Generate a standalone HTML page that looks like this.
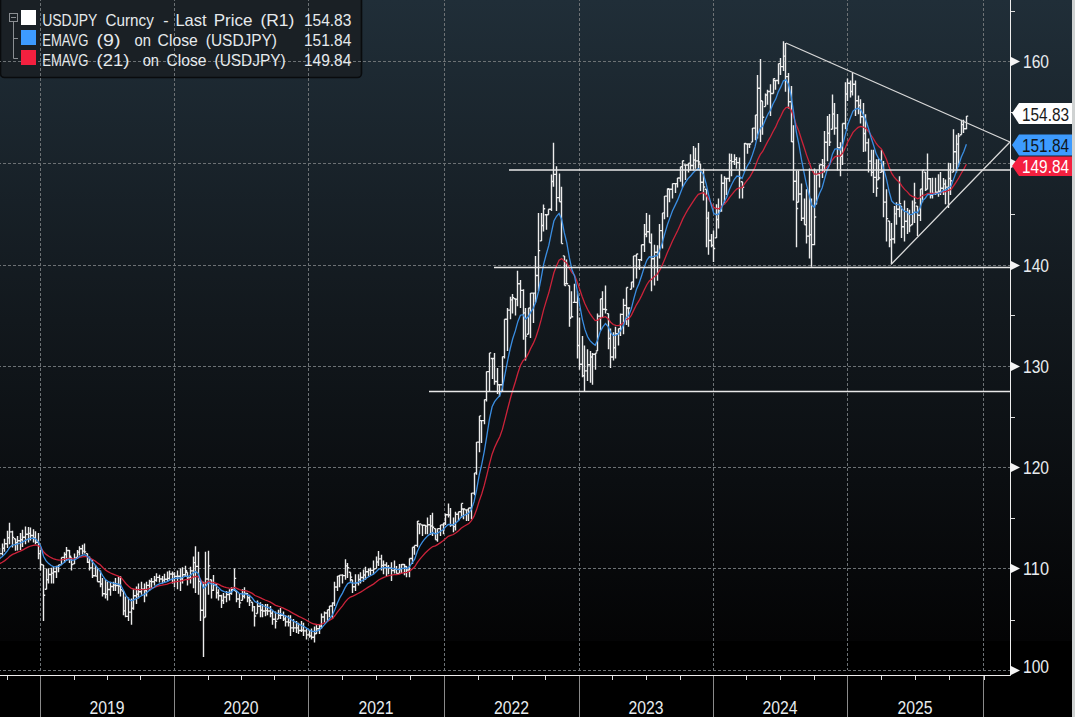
<!DOCTYPE html><html><head><meta charset="utf-8"><style>html,body{margin:0;padding:0;background:#000;overflow:hidden}svg{display:block}</style></head><body><svg width="1075" height="717" viewBox="0 0 1075 717" font-family="Liberation Sans, sans-serif"><defs><linearGradient id="bg" x1="0" y1="0" x2="0" y2="641" gradientUnits="userSpaceOnUse">
<stop offset="0" stop-color="#202e38"/><stop offset="0.5" stop-color="#12181d"/><stop offset="1" stop-color="#040405"/></linearGradient></defs><rect x="0" y="0" width="1075" height="641" fill="url(#bg)"/><rect x="0" y="641" width="1075" height="76" fill="#000"/><rect x="1072" y="0" width="3" height="717" fill="#cfd2d2"/><rect x="0.5" y="-4" width="361" height="81.5" rx="4" fill="#1a2025" stroke="#090b0d" stroke-width="1.6"/><path d="M0 61.5H1010 M0 163.5H1010 M0 265.5H1010 M0 366.5H1010 M0 467.5H1010 M0 568.5H1010 M0 670.5H1010 M40.5 0V670 M174.5 0V670 M308.5 0V670 M444.5 0V670 M579.5 0V670 M713.5 0V670 M847.5 0V670 M983.5 0V670" stroke="#6c7174" stroke-width="1" stroke-dasharray="3 2" stroke-dashoffset="2" fill="none"/><path d="M-0.5 548.0V559.3M-2.2 553.6h1.7M-0.5 553.6h1.7M2.5 543.4V555.5M0.8 553.6h1.7M2.5 548.2h1.7M4.5 538.7V551.8M2.8 548.2h1.7M4.5 543.8h1.7M7.5 530.7V548.0M5.8 543.8h1.7M7.5 537.8h1.7M9.5 522.8V544.3M7.8 537.8h1.7M9.5 531.9h1.7M12.5 530.7V547.6M10.8 531.9h1.7M12.5 537.4h1.7M15.5 538.7V550.8M13.8 538.7h1.7M15.5 542.7h1.7M17.5 535.9V550.4M15.8 542.7h1.7M17.5 540.7h1.7M20.5 533.1V549.9M18.8 540.7h1.7M20.5 539.8h1.7M22.5 529.8V547.1M20.8 539.8h1.7M22.5 537.3h1.7M25.5 526.5V544.3M23.8 537.3h1.7M25.5 534.2h1.7M28.5 527.0V542.4M26.8 534.2h1.7M28.5 533.4h1.7M30.5 527.5V540.6M28.8 533.4h1.7M30.5 535.5h1.7M33.5 529.3V542.4M31.8 535.5h1.7M33.5 538.0h1.7M35.5 531.2V544.3M33.8 538.0h1.7M35.5 542.2h1.7M38.5 533.1V559.3M36.8 542.2h1.7M38.5 553.6h1.7M40.5 549.9V570.5M38.8 553.6h1.7M40.5 564.5h1.7M43.5 564.9V620.9M41.8 564.9h1.7M43.5 595.3h1.7M46.5 568.6V589.2M44.8 589.2h1.7M46.5 579.7h1.7M48.5 568.6V583.6M46.8 579.7h1.7M48.5 574.5h1.7M51.5 567.7V583.6M49.8 574.5h1.7M51.5 573.1h1.7M53.5 566.7V583.6M51.8 573.1h1.7M53.5 571.7h1.7M56.5 565.8V577.9M54.8 571.7h1.7M56.5 566.5h1.7M58.5 564.9V572.3M56.8 566.5h1.7M58.5 564.9h1.7M61.5 557.4V564.9M59.8 564.9h1.7M61.5 557.4h1.7M64.5 552.2V563.0M62.8 557.4h1.7M64.5 554.5h1.7M66.5 547.1V561.1M64.8 554.5h1.7M66.5 550.5h1.7M69.5 549.9V563.0M67.8 550.5h1.7M69.5 556.1h1.7M71.5 557.4V570.5M69.8 557.4h1.7M71.5 564.5h1.7M74.5 553.6V563.9M72.8 563.9h1.7M74.5 558.3h1.7M77.5 549.9V557.4M75.8 557.4h1.7M77.5 552.1h1.7M79.5 546.2V555.5M77.8 552.1h1.7M79.5 548.8h1.7M82.5 544.8V554.6M80.8 548.8h1.7M82.5 551.1h1.7M84.5 543.4V553.6M82.8 551.1h1.7M84.5 551.9h1.7M87.5 553.6V563.0M85.8 553.6h1.7M87.5 562.2h1.7M89.5 556.4V570.5M87.8 562.2h1.7M89.5 567.9h1.7M92.5 559.3V577.9M90.8 567.9h1.7M92.5 575.7h1.7M95.5 564.9V576.1M93.8 575.7h1.7M95.5 576.1h1.7M97.5 567.7V581.7M95.8 576.1h1.7M97.5 581.7h1.7M100.5 570.5V587.3M98.8 581.7h1.7M100.5 584.0h1.7M102.5 577.9V596.6M100.8 584.0h1.7M102.5 593.8h1.7M105.5 579.8V598.5M103.8 593.8h1.7M105.5 594.4h1.7M107.5 581.7V600.4M105.8 594.4h1.7M107.5 589.5h1.7M110.5 581.7V595.7M108.8 589.5h1.7M110.5 586.5h1.7M113.5 581.7V591.0M111.8 586.5h1.7M113.5 585.1h1.7M115.5 577.9V591.0M113.8 585.1h1.7M115.5 585.5h1.7M118.5 577.0V593.8M116.8 585.5h1.7M118.5 586.0h1.7M120.5 576.1V596.6M118.8 586.0h1.7M120.5 589.8h1.7M123.5 591.0V615.3M121.8 591.0h1.7M123.5 610.9h1.7M125.5 596.6V617.2M123.8 610.9h1.7M125.5 616.4h1.7M128.5 597.6V620.9M126.8 616.4h1.7M128.5 612.1h1.7M131.5 598.5V624.7M129.8 612.1h1.7M131.5 608.3h1.7M133.5 589.2V609.7M131.8 608.3h1.7M133.5 595.8h1.7M136.5 586.4V604.1M134.8 595.8h1.7M136.5 594.2h1.7M138.5 583.6V598.5M136.8 594.2h1.7M138.5 591.7h1.7M141.5 581.7V594.8M139.8 591.7h1.7M141.5 589.3h1.7M144.5 583.6V602.2M142.8 589.3h1.7M144.5 590.5h1.7M146.5 581.7V596.6M144.8 590.5h1.7M146.5 585.4h1.7M149.5 579.8V591.0M147.8 585.4h1.7M149.5 581.4h1.7M151.5 577.9V588.2M149.8 581.4h1.7M151.5 581.8h1.7M154.5 576.1V585.4M152.8 581.8h1.7M154.5 580.2h1.7M156.5 573.3V581.7M154.8 580.2h1.7M156.5 577.4h1.7M159.5 574.7V582.6M157.8 577.4h1.7M159.5 579.0h1.7M162.5 576.1V583.6M160.8 579.0h1.7M162.5 580.1h1.7M164.5 573.7V582.6M162.8 580.1h1.7M164.5 579.2h1.7M167.5 571.4V581.7M165.8 579.2h1.7M167.5 578.4h1.7M169.5 570.5V579.8M167.8 578.4h1.7M169.5 574.0h1.7M172.5 571.4V583.6M170.8 574.0h1.7M172.5 574.1h1.7M174.5 572.3V587.3M172.8 574.1h1.7M174.5 576.4h1.7M177.5 570.5V589.2M175.8 576.4h1.7M177.5 576.3h1.7M180.5 568.6V591.0M178.8 576.3h1.7M180.5 578.9h1.7M182.5 567.2V583.6M180.8 578.9h1.7M182.5 574.8h1.7M185.5 565.8V576.1M183.8 574.8h1.7M185.5 570.8h1.7M187.5 572.3V585.4M185.8 572.3h1.7M187.5 577.9h1.7M190.5 566.7V583.6M188.8 577.9h1.7M190.5 570.9h1.7M193.5 556.4V588.2M191.8 570.9h1.7M193.5 562.6h1.7M195.5 546.2V592.9M193.8 562.6h1.7M195.5 566.4h1.7M198.5 551.8V594.8M196.8 566.4h1.7M198.5 581.4h1.7M200.5 579.8V620.9M198.8 581.4h1.7M200.5 610.3h1.7M203.5 581.7V657.0M201.8 610.3h1.7M203.5 617.5h1.7M205.5 551.8V617.2M203.8 617.2h1.7M205.5 579.0h1.7M208.5 550.8V594.8M206.8 579.0h1.7M208.5 565.9h1.7M211.5 579.8V598.5M209.8 579.8h1.7M211.5 590.3h1.7M213.5 575.1V591.0M211.8 590.3h1.7M213.5 584.9h1.7M216.5 583.6V598.5M214.8 584.9h1.7M216.5 592.8h1.7M218.5 589.2V600.4M216.8 592.8h1.7M218.5 595.8h1.7M221.5 594.8V607.9M219.8 595.8h1.7M221.5 600.5h1.7M223.5 592.9V604.1M221.8 600.5h1.7M223.5 597.1h1.7M226.5 591.0V602.2M224.8 597.1h1.7M226.5 594.5h1.7M229.5 589.2V600.4M227.8 594.5h1.7M229.5 593.2h1.7M231.5 587.3V594.8M229.8 593.2h1.7M231.5 589.5h1.7M234.5 568.6V591.0M232.8 589.5h1.7M234.5 578.4h1.7M236.5 591.0V602.2M234.8 591.0h1.7M236.5 599.0h1.7M239.5 592.9V607.9M237.8 599.0h1.7M239.5 602.9h1.7M242.5 589.2V600.4M240.8 600.4h1.7M242.5 596.2h1.7M244.5 587.3V598.5M242.8 596.2h1.7M244.5 593.4h1.7M247.5 592.9V602.2M245.8 593.4h1.7M247.5 597.7h1.7M249.5 594.8V606.0M247.8 597.7h1.7M249.5 600.5h1.7M252.5 602.2V611.6M250.8 602.2h1.7M252.5 606.9h1.7M254.5 606.0V626.5M252.8 606.9h1.7M254.5 616.0h1.7M257.5 600.4V613.5M255.8 613.5h1.7M257.5 606.3h1.7M260.5 602.2V617.2M258.8 606.3h1.7M260.5 610.2h1.7M262.5 604.1V617.2M260.8 610.2h1.7M262.5 611.0h1.7M265.5 604.1V616.3M263.8 611.0h1.7M265.5 610.6h1.7M267.5 604.1V615.3M265.8 610.6h1.7M267.5 611.0h1.7M270.5 606.0V617.2M268.8 611.0h1.7M270.5 613.2h1.7M272.5 609.7V624.7M270.8 613.2h1.7M272.5 619.2h1.7M275.5 611.6V628.4M273.8 619.2h1.7M275.5 621.4h1.7M278.5 609.7V619.1M276.8 619.1h1.7M278.5 615.4h1.7M280.5 607.9V619.1M278.8 615.4h1.7M280.5 615.2h1.7M283.5 611.6V620.9M281.8 615.2h1.7M283.5 619.0h1.7M285.5 615.3V626.5M283.8 619.0h1.7M285.5 621.9h1.7M288.5 615.3V626.5M286.8 621.9h1.7M288.5 622.4h1.7M290.5 615.3V635.9M288.8 622.4h1.7M290.5 627.9h1.7M293.5 619.1V632.1M291.8 627.9h1.7M293.5 627.9h1.7M296.5 620.9V633.1M294.8 627.9h1.7M296.5 627.9h1.7M298.5 622.8V634.0M296.8 627.9h1.7M298.5 630.5h1.7M301.5 620.9V632.1M299.8 630.5h1.7M301.5 630.1h1.7M303.5 622.8V635.9M301.8 630.1h1.7M303.5 630.9h1.7M306.5 628.4V639.6M304.8 630.9h1.7M306.5 634.9h1.7M309.5 630.3V637.8M307.8 634.9h1.7M309.5 636.0h1.7M311.5 628.4V639.6M309.8 636.0h1.7M311.5 637.2h1.7M314.5 626.5V642.4M312.8 637.2h1.7M314.5 633.7h1.7M316.5 624.7V634.0M314.8 633.7h1.7M316.5 628.7h1.7M319.5 624.7V634.0M317.8 628.7h1.7M319.5 626.1h1.7M321.5 613.5V628.4M319.8 626.1h1.7M321.5 617.0h1.7M324.5 611.6V622.8M322.8 617.0h1.7M324.5 613.0h1.7M327.5 609.7V620.9M325.8 613.0h1.7M327.5 609.7h1.7M329.5 606.0V617.2M327.8 609.7h1.7M329.5 606.0h1.7M332.5 602.2V619.1M330.8 606.0h1.7M332.5 603.0h1.7M334.5 581.7V606.0M332.8 603.0h1.7M334.5 587.0h1.7M337.5 576.1V591.0M335.8 587.0h1.7M337.5 576.1h1.7M339.5 575.1V587.3M337.8 576.1h1.7M339.5 575.1h1.7M342.5 574.2V583.6M340.8 575.1h1.7M342.5 575.6h1.7M345.5 559.3V579.8M343.8 575.6h1.7M345.5 565.9h1.7M347.5 563.0V577.9M345.8 565.9h1.7M347.5 567.6h1.7M350.5 572.3V581.7M348.8 572.3h1.7M350.5 577.1h1.7M352.5 579.8V592.9M350.8 579.8h1.7M352.5 586.8h1.7M355.5 574.2V591.0M353.8 586.8h1.7M355.5 582.9h1.7M358.5 574.2V585.4M356.8 582.9h1.7M358.5 579.5h1.7M360.5 572.3V583.6M358.8 579.5h1.7M360.5 577.5h1.7M363.5 569.5V581.7M361.8 577.5h1.7M363.5 575.0h1.7M365.5 566.7V579.8M363.8 575.0h1.7M365.5 571.7h1.7M368.5 568.6V576.1M366.8 571.7h1.7M368.5 570.1h1.7M370.5 567.7V575.3M368.8 570.1h1.7M370.5 570.4h1.7M373.5 560.4V574.2M371.8 570.4h1.7M373.5 569.0h1.7M376.5 556.4V568.6M374.8 568.6h1.7M376.5 562.0h1.7M378.5 551.0V566.0M376.8 562.0h1.7M378.5 558.9h1.7M381.5 554.8V570.5M379.8 558.9h1.7M381.5 565.4h1.7M383.5 560.4V574.2M381.8 565.4h1.7M383.5 565.0h1.7M386.5 562.2V576.1M384.8 565.0h1.7M386.5 567.3h1.7M388.5 564.9V574.2M386.8 567.3h1.7M388.5 568.0h1.7M391.5 562.2V580.9M389.8 568.0h1.7M391.5 570.5h1.7M394.5 560.4V573.5M392.8 570.5h1.7M394.5 569.1h1.7M396.5 566.0V573.5M394.8 569.1h1.7M396.5 573.5h1.7M399.5 564.1V573.5M397.8 573.5h1.7M399.5 569.5h1.7M401.5 564.1V573.5M399.8 569.5h1.7M401.5 564.5h1.7M404.5 564.1V575.3M402.8 564.5h1.7M404.5 566.5h1.7M406.5 566.0V577.2M404.8 566.5h1.7M406.5 570.0h1.7M409.5 558.5V577.2M407.8 570.0h1.7M409.5 558.5h1.7M412.5 547.3V564.1M410.8 558.5h1.7M412.5 547.3h1.7M414.5 545.4V554.8M412.8 547.3h1.7M414.5 545.4h1.7M417.5 521.1V547.3M415.8 545.4h1.7M417.5 521.1h1.7M419.5 523.9V534.2M417.8 523.9h1.7M419.5 523.9h1.7M422.5 524.9V536.1M420.8 524.9h1.7M422.5 525.3h1.7M425.5 524.9V534.2M423.8 525.3h1.7M425.5 526.1h1.7M427.5 517.4V534.2M425.8 526.1h1.7M427.5 524.7h1.7M430.5 515.0V535.1M428.8 524.7h1.7M430.5 526.0h1.7M432.5 512.7V536.1M430.8 526.0h1.7M432.5 527.3h1.7M435.5 528.6V539.8M433.8 528.6h1.7M435.5 539.8h1.7M437.5 528.6V541.7M435.8 539.8h1.7M437.5 528.6h1.7M440.5 524.9V536.1M438.8 528.6h1.7M440.5 524.9h1.7M443.5 523.0V534.2M441.8 524.9h1.7M443.5 523.0h1.7M445.5 513.6V524.9M443.8 523.0h1.7M445.5 514.8h1.7M448.5 503.4V517.4M446.8 514.8h1.7M448.5 515.0h1.7M450.5 508.0V526.7M448.8 515.0h1.7M450.5 525.0h1.7M453.5 517.4V532.3M451.8 525.0h1.7M453.5 526.6h1.7M455.5 511.8V530.5M453.8 526.6h1.7M455.5 514.2h1.7M458.5 511.8V521.1M456.8 514.2h1.7M458.5 511.8h1.7M461.5 503.4V517.4M459.8 511.8h1.7M461.5 503.4h1.7M463.5 509.0V519.3M461.8 509.0h1.7M463.5 509.0h1.7M466.5 509.9V521.1M464.8 509.9h1.7M466.5 509.9h1.7M468.5 508.0V521.1M466.8 509.9h1.7M468.5 508.0h1.7M471.5 493.1V519.3M469.8 508.0h1.7M471.5 493.1h1.7M474.5 472.9V495.3M472.8 493.1h1.7M474.5 472.9h1.7M476.5 442.1V474.8M474.8 472.9h1.7M476.5 442.1h1.7M479.5 415.9V452.3M477.8 442.1h1.7M479.5 415.9h1.7M481.5 420.6V443.0M479.8 420.6h1.7M481.5 420.6h1.7M484.5 399.6V424.3M482.8 420.6h1.7M484.5 399.6h1.7M486.5 371.6V401.5M484.8 399.6h1.7M486.5 371.6h1.7M489.5 352.9V392.1M487.8 371.6h1.7M489.5 352.9h1.7M492.5 358.5V379.1M490.8 358.5h1.7M492.5 358.5h1.7M494.5 352.9V384.7M492.8 358.5h1.7M494.5 381.5h1.7M497.5 367.9V394.0M495.8 381.5h1.7M497.5 384.7h1.7M499.5 384.7V396.8M497.8 384.7h1.7M499.5 384.7h1.7M502.5 356.6V392.1M500.8 384.7h1.7M502.5 356.6h1.7M504.5 319.3V358.5M502.8 356.6h1.7M504.5 319.3h1.7M507.5 308.0V351.0M505.8 319.3h1.7M507.5 310.1h1.7M510.5 296.8V319.3M508.8 310.1h1.7M510.5 299.9h1.7M512.5 294.0V313.6M510.8 299.9h1.7M512.5 297.7h1.7M515.5 298.7V315.5M513.8 298.7h1.7M515.5 299.3h1.7M517.5 270.8V306.2M515.8 299.3h1.7M517.5 283.7h1.7M520.5 280.1V308.0M518.8 283.7h1.7M520.5 290.4h1.7M523.5 289.3V339.8M521.8 290.4h1.7M523.5 312.9h1.7M525.5 308.0V360.4M523.8 312.9h1.7M525.5 336.1h1.7M528.5 308.0V334.2M526.8 334.2h1.7M528.5 308.0h1.7M530.5 293.1V337.9M528.8 308.0h1.7M530.5 293.1h1.7M533.5 293.1V323.0M531.8 293.1h1.7M533.5 293.1h1.7M535.5 255.9V302.4M533.8 293.1h1.7M535.5 275.5h1.7M538.5 212.9V291.2M536.8 275.5h1.7M538.5 250.6h1.7M541.5 212.9V240.9M539.8 240.9h1.7M541.5 225.5h1.7M543.5 204.5V231.6M541.8 225.5h1.7M543.5 208.8h1.7M546.5 214.8V229.7M544.8 214.8h1.7M546.5 214.8h1.7M548.5 209.2V214.8M546.8 214.8h1.7M548.5 209.2h1.7M551.5 174.6V211.0M549.8 209.2h1.7M551.5 181.5h1.7M553.5 142.8V186.7M551.8 181.5h1.7M553.5 174.4h1.7M556.5 166.2V211.0M554.8 174.4h1.7M556.5 197.6h1.7M559.5 173.6V201.7M557.8 197.6h1.7M559.5 201.7h1.7M561.5 186.7V243.6M559.8 201.7h1.7M561.5 243.6h1.7M564.5 255.9V285.6M562.8 255.9h1.7M564.5 285.6h1.7M566.5 259.6V283.7M564.8 283.7h1.7M566.5 283.7h1.7M569.5 285.6V326.7M567.8 285.6h1.7M569.5 318.2h1.7M571.5 291.2V317.4M569.8 317.4h1.7M571.5 316.7h1.7M574.5 283.7V302.4M572.8 302.4h1.7M574.5 302.4h1.7M577.5 291.2V358.5M575.8 302.4h1.7M577.5 345.5h1.7M579.5 317.4V369.7M577.8 345.5h1.7M579.5 364.2h1.7M582.5 336.1V377.2M580.8 364.2h1.7M582.5 375.7h1.7M584.5 345.4V392.1M582.8 375.7h1.7M584.5 370.9h1.7M587.5 349.2V380.9M585.8 370.9h1.7M587.5 364.8h1.7M590.5 351.0V382.8M588.8 364.8h1.7M590.5 357.0h1.7M592.5 352.9V384.7M590.8 357.0h1.7M592.5 354.3h1.7M595.5 352.9V369.7M593.8 354.3h1.7M595.5 352.9h1.7M597.5 313.6V351.0M595.8 351.0h1.7M597.5 316.1h1.7M600.5 298.7V330.5M598.8 316.1h1.7M600.5 298.7h1.7M602.5 291.2V317.4M600.8 298.7h1.7M602.5 309.3h1.7M605.5 285.6V313.6M603.8 309.3h1.7M605.5 309.8h1.7M608.5 313.6V349.2M606.8 313.6h1.7M608.5 338.5h1.7M610.5 328.6V367.9M608.8 338.5h1.7M610.5 357.0h1.7M613.5 332.3V360.4M611.8 357.0h1.7M613.5 347.7h1.7M615.5 326.7V358.5M613.8 347.7h1.7M615.5 333.8h1.7M618.5 328.6V345.4M616.8 333.8h1.7M618.5 328.6h1.7M620.5 313.6V336.1M618.8 328.6h1.7M620.5 314.4h1.7M623.5 298.7V334.2M621.8 314.4h1.7M623.5 305.4h1.7M626.5 287.5V324.9M624.8 305.4h1.7M626.5 287.5h1.7M628.5 308.0V326.7M626.8 308.0h1.7M628.5 308.0h1.7M631.5 282.0V289.3M629.8 289.3h1.7M631.5 282.0h1.7M633.5 255.9V287.5M631.8 282.0h1.7M633.5 255.9h1.7M636.5 254.0V278.6M634.8 255.9h1.7M636.5 254.0h1.7M639.5 259.6V269.8M637.8 259.6h1.7M639.5 259.6h1.7M641.5 244.7V261.0M639.8 259.6h1.7M641.5 244.7h1.7M644.5 224.1V252.1M642.8 244.7h1.7M644.5 234.2h1.7M646.5 212.9V237.2M644.8 234.2h1.7M646.5 231.7h1.7M649.5 214.8V242.8M647.8 231.7h1.7M649.5 242.8h1.7M651.5 233.5V291.2M649.8 242.8h1.7M651.5 258.7h1.7M654.5 244.7V285.6M652.8 258.7h1.7M654.5 252.2h1.7M657.5 245.3V280.8M655.8 252.2h1.7M657.5 253.5h1.7M659.5 224.1V258.4M657.8 253.5h1.7M659.5 230.6h1.7M662.5 212.9V248.4M660.8 230.6h1.7M662.5 212.9h1.7M664.5 196.1V219.2M662.8 212.9h1.7M664.5 196.1h1.7M667.5 188.6V217.3M665.8 196.1h1.7M667.5 188.6h1.7M669.5 189.3V202.3M667.8 189.3h1.7M669.5 189.3h1.7M672.5 183.6V198.6M670.8 189.3h1.7M672.5 183.6h1.7M675.5 183.6V193.0M673.8 183.6h1.7M675.5 183.6h1.7M677.5 178.0V187.4M675.8 183.6h1.7M677.5 178.0h1.7M680.5 166.8V181.8M678.8 178.0h1.7M680.5 166.8h1.7M682.5 160.8V187.4M680.8 166.8h1.7M682.5 160.8h1.7M685.5 165.0V179.9M683.8 165.0h1.7M685.5 165.0h1.7M688.5 163.1V172.4M686.8 165.0h1.7M688.5 163.1h1.7M690.5 154.3V170.6M688.8 163.1h1.7M690.5 165.5h1.7M693.5 145.9V170.6M691.8 165.5h1.7M693.5 160.0h1.7M695.5 147.8V168.7M693.8 160.0h1.7M695.5 160.9h1.7M698.5 143.1V168.7M696.8 160.9h1.7M698.5 162.0h1.7M700.5 164.0V191.1M698.8 164.0h1.7M700.5 182.2h1.7M703.5 168.7V200.5M701.8 182.2h1.7M703.5 187.0h1.7M706.5 189.3V247.2M704.8 189.3h1.7M706.5 218.1h1.7M708.5 211.7V254.7M706.8 218.1h1.7M708.5 240.5h1.7M711.5 234.1V247.2M709.8 240.5h1.7M711.5 245.2h1.7M713.5 230.4V262.1M711.8 245.2h1.7M713.5 248.5h1.7M716.5 204.2V237.9M714.8 237.9h1.7M716.5 219.5h1.7M718.5 198.6V228.5M716.8 219.5h1.7M718.5 211.0h1.7M721.5 174.3V211.7M719.8 211.0h1.7M721.5 183.3h1.7M724.5 176.2V204.2M722.8 183.3h1.7M724.5 178.5h1.7M726.5 178.0V194.9M724.8 178.5h1.7M726.5 178.5h1.7M729.5 153.4V181.8M727.8 178.5h1.7M729.5 160.6h1.7M731.5 153.7V176.2M729.8 160.6h1.7M731.5 161.6h1.7M734.5 154.3V165.0M732.8 161.6h1.7M734.5 159.4h1.7M736.5 157.1V168.7M734.8 159.4h1.7M736.5 162.6h1.7M739.5 157.5V198.6M737.8 162.6h1.7M739.5 177.7h1.7M742.5 181.8V198.6M740.8 181.8h1.7M742.5 187.3h1.7M744.5 143.1V170.6M742.8 170.6h1.7M744.5 143.5h1.7M747.5 144.0V153.7M745.8 144.0h1.7M747.5 144.0h1.7M749.5 144.0V147.9M747.8 144.0h1.7M749.5 144.0h1.7M752.5 128.1V142.1M750.8 142.1h1.7M752.5 128.1h1.7M755.5 115.0V140.3M753.8 128.1h1.7M755.5 115.0h1.7M757.5 74.9V138.4M755.8 115.0h1.7M757.5 88.2h1.7M760.5 59.0V142.1M758.8 88.2h1.7M760.5 100.8h1.7M762.5 101.0V134.7M760.8 101.0h1.7M762.5 117.2h1.7M765.5 93.6V106.6M763.8 106.6h1.7M765.5 95.0h1.7M767.5 89.8V104.8M765.8 95.0h1.7M767.5 91.5h1.7M770.5 84.2V116.0M768.8 91.5h1.7M770.5 93.5h1.7M773.5 78.6V93.6M771.8 93.5h1.7M773.5 78.6h1.7M775.5 80.5V89.8M773.8 80.5h1.7M775.5 80.5h1.7M778.5 63.6V84.2M776.8 80.5h1.7M778.5 63.6h1.7M780.5 58.0V74.9M778.8 63.6h1.7M780.5 66.6h1.7M783.5 41.2V71.1M781.8 66.6h1.7M783.5 56.1h1.7M785.5 43.1V91.7M783.8 56.1h1.7M785.5 76.6h1.7M788.5 73.0V108.5M786.8 76.6h1.7M788.5 101.8h1.7M791.5 86.1V142.1M789.8 101.8h1.7M791.5 141.8h1.7M793.5 125.3V200.5M791.8 141.8h1.7M793.5 181.3h1.7M796.5 170.6V247.2M794.8 181.3h1.7M796.5 208.5h1.7M798.5 170.6V202.3M796.8 202.3h1.7M798.5 194.0h1.7M801.5 183.6V221.0M799.8 194.0h1.7M801.5 218.3h1.7M804.5 198.6V224.8M802.8 218.3h1.7M804.5 224.8h1.7M806.5 189.3V243.5M804.8 224.8h1.7M806.5 236.1h1.7M809.5 168.4V258.4M807.8 236.1h1.7M809.5 234.8h1.7M811.5 198.6V266.8M809.8 234.8h1.7M811.5 244.6h1.7M814.5 168.4V245.3M812.8 244.6h1.7M814.5 217.0h1.7M816.5 170.6V204.2M814.8 204.2h1.7M816.5 174.7h1.7M819.5 164.7V187.4M817.8 174.7h1.7M819.5 164.7h1.7M822.5 159.1V178.0M820.8 164.7h1.7M822.5 165.6h1.7M824.5 130.9V172.4M822.8 165.6h1.7M824.5 142.3h1.7M827.5 116.0V161.2M825.8 142.3h1.7M827.5 133.3h1.7M829.5 114.1V145.9M827.8 133.3h1.7M829.5 142.1h1.7M832.5 94.5V129.2M830.8 129.2h1.7M832.5 114.0h1.7M834.5 102.9V134.7M832.8 114.0h1.7M834.5 128.1h1.7M837.5 114.1V170.6M835.8 128.1h1.7M837.5 147.7h1.7M840.5 142.2V176.2M838.8 147.7h1.7M840.5 156.2h1.7M842.5 123.5V165.0M840.8 156.2h1.7M842.5 123.5h1.7M845.5 82.3V129.2M843.8 123.5h1.7M845.5 94.0h1.7M847.5 78.6V101.1M845.8 94.0h1.7M847.5 83.2h1.7M850.5 80.6V97.4M848.8 83.2h1.7M850.5 91.5h1.7M852.5 73.1V95.5M850.8 91.5h1.7M852.5 84.3h1.7M855.5 80.6V116.1M853.8 84.3h1.7M855.5 100.7h1.7M858.5 95.5V114.2M856.8 100.7h1.7M858.5 105.5h1.7M860.5 99.3V123.6M858.8 105.5h1.7M860.5 116.7h1.7M863.5 103.0V151.9M861.8 116.7h1.7M863.5 133.5h1.7M865.5 114.2V151.6M863.8 133.5h1.7M865.5 142.9h1.7M868.5 138.5V172.4M866.8 142.9h1.7M868.5 161.1h1.7M871.5 149.7V176.2M869.8 161.1h1.7M871.5 172.4h1.7M873.5 149.7V193.0M871.8 172.4h1.7M873.5 177.4h1.7M876.5 159.3V196.7M874.8 177.4h1.7M876.5 188.2h1.7M878.5 159.1V179.9M876.8 179.9h1.7M878.5 178.0h1.7M881.5 149.7V172.4M879.8 172.4h1.7M881.5 171.0h1.7M883.5 160.9V217.3M881.8 171.0h1.7M883.5 202.1h1.7M886.5 189.3V241.6M884.8 202.1h1.7M886.5 218.6h1.7M889.5 221.0V247.2M887.8 221.0h1.7M889.5 239.8h1.7M891.5 222.9V264.0M889.8 239.8h1.7M891.5 239.0h1.7M894.5 206.1V243.5M892.8 239.0h1.7M894.5 213.9h1.7M896.5 202.3V224.8M894.8 213.9h1.7M896.5 209.3h1.7M899.5 176.2V217.3M897.8 209.3h1.7M899.5 203.6h1.7M901.5 206.1V237.9M899.8 206.1h1.7M901.5 226.7h1.7M904.5 200.5V241.6M902.8 226.7h1.7M904.5 221.2h1.7M907.5 207.9V234.1M905.8 221.2h1.7M907.5 213.6h1.7M909.5 209.8V232.2M907.8 213.6h1.7M909.5 225.7h1.7M912.5 200.5V224.8M910.8 224.8h1.7M912.5 213.3h1.7M914.5 182.7V222.9M912.8 213.3h1.7M914.5 202.9h1.7M917.5 206.1V236.0M915.8 206.1h1.7M917.5 215.3h1.7M920.5 189.0V221.0M918.8 215.3h1.7M920.5 189.0h1.7M922.5 170.3V202.3M920.8 189.0h1.7M922.5 170.3h1.7M925.5 172.1V191.1M923.8 172.1h1.7M925.5 189.5h1.7M927.5 153.5V189.3M925.8 189.3h1.7M927.5 178.8h1.7M930.5 178.0V198.6M928.8 178.8h1.7M930.5 195.3h1.7M932.5 177.8V198.6M930.8 195.3h1.7M932.5 193.5h1.7M935.5 177.8V194.9M933.8 193.5h1.7M935.5 192.3h1.7M938.5 174.3V196.7M936.8 192.3h1.7M938.5 191.2h1.7M940.5 172.1V194.9M938.8 191.2h1.7M940.5 188.2h1.7M943.5 178.0V194.9M941.8 188.2h1.7M943.5 184.0h1.7M945.5 179.6V204.2M943.8 184.0h1.7M945.5 187.1h1.7M948.5 162.8V207.9M946.8 187.1h1.7M948.5 178.5h1.7M950.5 163.1V194.9M948.8 178.5h1.7M950.5 180.8h1.7M953.5 129.2V172.1M951.8 172.1h1.7M953.5 151.7h1.7M956.5 134.8V172.4M954.8 151.7h1.7M956.5 144.1h1.7M958.5 132.9V166.8M956.8 144.1h1.7M958.5 136.1h1.7M961.5 119.8V134.8M959.8 134.8h1.7M961.5 124.6h1.7M963.5 119.8V132.9M961.8 124.6h1.7M963.5 128.8h1.7M966.5 116.1V129.2M964.8 128.8h1.7M966.5 116.1h1.7" stroke="#ececec" stroke-width="1.4" fill="none"/><path d="M-0.3,563.7 L2.3,562.3 L4.8,560.6 L7.4,558.6 L10.0,556.1 L12.6,554.4 L15.1,553.4 L17.7,552.2 L20.3,551.1 L22.9,549.8 L25.5,548.4 L28.0,547.1 L30.6,546.0 L33.2,545.3 L35.8,545.0 L38.3,545.8 L40.9,547.5 L43.5,551.8 L46.1,554.4 L48.7,556.2 L51.2,557.7 L53.8,559.0 L56.4,559.7 L59.0,560.2 L61.5,559.9 L64.1,559.4 L66.7,558.6 L69.3,558.4 L71.9,558.9 L74.4,558.9 L77.0,558.3 L79.6,557.4 L82.2,556.8 L84.7,556.4 L87.3,556.9 L89.9,557.9 L92.5,559.5 L95.1,561.0 L97.6,562.9 L100.2,564.8 L102.8,567.5 L105.4,569.9 L108.0,571.7 L110.5,573.0 L113.1,574.1 L115.7,575.2 L118.3,576.2 L120.8,577.4 L123.4,580.4 L126.0,583.7 L128.6,586.3 L131.2,588.3 L133.7,589.0 L136.3,589.5 L138.9,589.7 L141.5,589.6 L144.0,589.7 L146.6,589.3 L149.2,588.6 L151.8,588.0 L154.4,587.3 L156.9,586.4 L159.5,585.7 L162.1,585.2 L164.7,584.7 L167.2,584.1 L169.8,583.2 L172.4,582.3 L175.0,581.8 L177.6,581.3 L180.1,581.1 L182.7,580.5 L185.3,579.6 L187.9,579.5 L190.4,578.7 L193.0,577.2 L195.6,576.3 L198.2,576.7 L200.8,579.8 L203.3,583.2 L205.9,582.8 L208.5,581.3 L211.1,582.1 L213.6,582.4 L216.2,583.3 L218.8,584.4 L221.4,585.9 L224.0,586.9 L226.5,587.6 L229.1,588.1 L231.7,588.3 L234.3,587.4 L236.8,588.4 L239.4,589.7 L242.0,590.3 L244.6,590.6 L247.2,591.2 L249.7,592.1 L252.3,593.4 L254.9,595.5 L257.5,596.5 L260.1,597.7 L262.6,598.9 L265.2,600.0 L267.8,601.0 L270.4,602.1 L272.9,603.6 L275.5,605.3 L278.1,606.2 L280.7,607.0 L283.3,608.1 L285.8,609.3 L288.4,610.5 L291.0,612.1 L293.6,613.6 L296.1,614.9 L298.7,616.3 L301.3,617.5 L303.9,618.8 L306.5,620.2 L309.0,621.7 L311.6,623.1 L314.2,624.0 L316.8,624.5 L319.3,624.6 L321.9,623.9 L324.5,622.9 L327.1,621.7 L329.7,620.3 L332.2,618.7 L334.8,615.8 L337.4,612.2 L340.0,608.8 L342.5,605.8 L345.1,602.2 L347.7,599.1 L350.3,597.1 L352.9,596.1 L355.4,594.9 L358.0,593.5 L360.6,592.1 L363.2,590.5 L365.8,588.8 L368.3,587.1 L370.9,585.6 L373.5,584.1 L376.1,582.1 L378.6,580.0 L381.2,578.6 L383.8,577.4 L386.4,576.5 L389.0,575.7 L391.5,575.2 L394.1,574.7 L396.7,574.6 L399.3,574.1 L401.8,573.2 L404.4,572.6 L407.0,572.4 L409.6,571.1 L412.2,569.0 L414.7,566.8 L417.3,562.7 L419.9,559.1 L422.5,556.1 L425.0,553.3 L427.6,550.7 L430.2,548.5 L432.8,546.6 L435.4,545.9 L437.9,544.4 L440.5,542.6 L443.1,540.8 L445.7,538.4 L448.2,536.3 L450.8,535.3 L453.4,534.5 L456.0,532.7 L458.6,530.8 L461.1,528.3 L463.7,526.5 L466.3,525.0 L468.9,523.5 L471.4,520.7 L474.0,516.4 L476.6,509.6 L479.2,501.1 L481.8,493.8 L484.3,485.2 L486.9,474.9 L489.5,463.8 L492.1,454.2 L494.6,447.6 L497.2,441.9 L499.8,436.7 L502.4,429.4 L505.0,419.4 L507.5,409.5 L510.1,399.5 L512.7,390.2 L515.3,382.0 L517.9,373.0 L520.4,365.5 L523.0,360.7 L525.6,358.5 L528.2,353.9 L530.7,348.4 L533.3,343.4 L535.9,337.2 L538.5,329.3 L541.1,319.9 L543.6,309.8 L546.2,301.1 L548.8,292.8 L551.4,282.7 L553.9,272.8 L556.5,266.0 L559.1,260.1 L561.7,258.6 L564.3,261.1 L566.8,263.1 L569.4,268.2 L572.0,272.6 L574.6,275.3 L577.1,281.7 L579.7,289.2 L582.3,297.0 L584.9,303.7 L587.5,309.3 L590.0,313.6 L592.6,317.3 L595.2,320.6 L597.8,320.2 L600.3,318.2 L602.9,317.4 L605.5,316.7 L608.1,318.7 L610.7,322.2 L613.2,324.5 L615.8,325.3 L618.4,325.6 L621.0,324.6 L623.5,322.9 L626.1,319.7 L628.7,318.6 L631.3,315.3 L633.9,309.9 L636.4,304.8 L639.0,300.7 L641.6,295.6 L644.2,290.0 L646.8,284.7 L649.3,280.9 L651.9,278.9 L654.5,276.5 L657.1,274.4 L659.6,270.4 L662.2,265.2 L664.8,258.9 L667.4,252.5 L670.0,246.7 L672.5,241.0 L675.1,235.8 L677.7,230.5 L680.3,224.7 L682.8,218.9 L685.4,214.0 L688.0,209.4 L690.6,205.4 L693.2,201.3 L695.7,197.6 L698.3,194.4 L700.9,193.3 L703.5,192.7 L706.0,195.0 L708.6,199.1 L711.2,203.3 L713.8,207.4 L716.4,208.5 L718.9,208.8 L721.5,206.4 L724.1,203.9 L726.7,201.6 L729.2,197.9 L731.8,194.6 L734.4,191.4 L737.0,188.8 L739.6,187.8 L742.1,187.7 L744.7,183.7 L747.3,180.1 L749.9,176.8 L752.4,172.4 L755.0,167.2 L757.6,160.0 L760.2,154.6 L762.8,151.2 L765.3,146.1 L767.9,141.1 L770.5,136.8 L773.1,131.5 L775.7,126.9 L778.2,121.1 L780.8,116.2 L783.4,110.7 L786.0,107.6 L788.5,107.1 L791.1,110.2 L793.7,116.7 L796.3,125.0 L798.9,131.3 L801.4,139.2 L804.0,147.0 L806.6,155.1 L809.2,162.3 L811.7,169.8 L814.3,174.1 L816.9,174.2 L819.5,173.3 L822.1,172.6 L824.6,169.8 L827.2,166.5 L829.8,164.3 L832.4,159.7 L834.9,156.9 L837.5,156.0 L840.1,156.0 L842.7,153.1 L845.3,147.7 L847.8,141.8 L850.4,137.3 L853.0,132.4 L855.6,129.6 L858.1,127.4 L860.7,126.4 L863.3,127.0 L865.9,128.5 L868.5,131.5 L871.0,135.2 L873.6,139.0 L876.2,143.5 L878.8,146.6 L881.3,148.8 L883.9,153.7 L886.5,159.6 L889.1,166.9 L891.7,173.4 L894.2,177.1 L896.8,180.0 L899.4,182.2 L902.0,186.2 L904.6,189.4 L907.1,191.6 L909.7,194.7 L912.3,196.4 L914.9,197.0 L917.4,198.7 L920.0,197.8 L922.6,195.3 L925.2,194.8 L927.8,193.3 L930.3,193.5 L932.9,193.5 L935.5,193.4 L938.1,193.2 L940.6,192.7 L943.2,191.9 L945.8,191.5 L948.4,190.3 L951.0,189.5 L953.5,186.0 L956.1,182.2 L958.7,178.0 L961.3,173.2 L963.8,169.1 L966.4,164.3" stroke="#cc233a" stroke-width="1.3" fill="none"/><path d="M-0.3,558.6 L2.3,556.5 L4.8,554.0 L7.4,550.8 L10.0,547.0 L12.6,545.1 L15.1,544.6 L17.7,543.8 L20.3,543.0 L22.9,541.9 L25.5,540.3 L28.0,539.0 L30.6,538.3 L33.2,538.2 L35.8,539.0 L38.3,541.9 L40.9,546.4 L43.5,556.2 L46.1,560.9 L48.7,563.6 L51.2,565.5 L53.8,566.8 L56.4,566.7 L59.0,566.3 L61.5,564.5 L64.1,562.5 L66.7,560.1 L69.3,559.3 L71.9,560.4 L74.4,559.9 L77.0,558.4 L79.6,556.5 L82.2,555.4 L84.7,554.7 L87.3,556.2 L89.9,558.5 L92.5,562.0 L95.1,564.8 L97.6,568.2 L100.2,571.3 L102.8,575.8 L105.4,579.6 L108.0,581.5 L110.5,582.5 L113.1,583.1 L115.7,583.6 L118.3,584.1 L120.8,585.2 L123.4,590.3 L126.0,595.6 L128.6,598.9 L131.2,600.8 L133.7,599.8 L136.3,598.7 L138.9,597.3 L141.5,595.7 L144.0,594.6 L146.6,592.8 L149.2,590.5 L151.8,588.8 L154.4,587.0 L156.9,585.1 L159.5,583.9 L162.1,583.2 L164.7,582.4 L167.2,581.6 L169.8,580.1 L172.4,578.9 L175.0,578.4 L177.6,578.0 L180.1,578.1 L182.7,577.5 L185.3,576.1 L187.9,576.5 L190.4,575.4 L193.0,572.8 L195.6,571.6 L198.2,573.5 L200.8,580.9 L203.3,588.2 L205.9,586.4 L208.5,582.3 L211.1,583.9 L213.6,584.1 L216.2,585.8 L218.8,587.8 L221.4,590.4 L224.0,591.7 L226.5,592.3 L229.1,592.5 L231.7,591.9 L234.3,589.2 L236.8,591.1 L239.4,593.5 L242.0,594.0 L244.6,593.9 L247.2,594.7 L249.7,595.8 L252.3,598.0 L254.9,601.6 L257.5,602.6 L260.1,604.1 L262.6,605.5 L265.2,606.5 L267.8,607.4 L270.4,608.5 L272.9,610.7 L275.5,612.8 L278.1,613.3 L280.7,613.7 L283.3,614.8 L285.8,616.2 L288.4,617.4 L291.0,619.5 L293.6,621.2 L296.1,622.5 L298.7,624.1 L301.3,625.3 L303.9,626.5 L306.5,628.1 L309.0,629.7 L311.6,631.2 L314.2,631.7 L316.8,631.1 L319.3,630.1 L321.9,627.5 L324.5,624.6 L327.1,621.6 L329.7,618.5 L332.2,615.4 L334.8,609.7 L337.4,603.0 L340.0,597.4 L342.5,593.1 L345.1,587.6 L347.7,583.6 L350.3,582.3 L352.9,583.2 L355.4,583.2 L358.0,582.4 L360.6,581.4 L363.2,580.2 L365.8,578.5 L368.3,576.8 L370.9,575.5 L373.5,574.2 L376.1,571.8 L378.6,569.2 L381.2,568.4 L383.8,567.7 L386.4,567.7 L389.0,567.7 L391.5,568.3 L394.1,568.4 L396.7,569.4 L399.3,569.5 L401.8,568.5 L404.4,568.1 L407.0,568.5 L409.6,566.5 L412.2,562.6 L414.7,559.2 L417.3,551.6 L419.9,546.0 L422.5,541.9 L425.0,538.7 L427.6,535.9 L430.2,533.9 L432.8,532.6 L435.4,534.0 L437.9,532.9 L440.5,531.3 L443.1,529.7 L445.7,526.7 L448.2,524.4 L450.8,524.5 L453.4,524.9 L456.0,522.8 L458.6,520.6 L461.1,517.1 L463.7,515.5 L466.3,514.4 L468.9,513.1 L471.4,509.1 L474.0,501.9 L476.6,489.9 L479.2,475.1 L481.8,464.2 L484.3,451.3 L486.9,435.3 L489.5,418.9 L492.1,406.8 L494.6,401.7 L497.2,398.3 L499.8,395.6 L502.4,387.8 L505.0,374.1 L507.5,361.3 L510.1,349.0 L512.7,338.8 L515.3,330.9 L517.9,321.4 L520.4,315.2 L523.0,314.7 L525.6,319.0 L528.2,316.8 L530.7,312.1 L533.3,308.3 L535.9,301.7 L538.5,291.5 L541.1,278.3 L543.6,264.4 L546.2,254.5 L548.8,245.4 L551.4,232.6 L553.9,221.0 L556.5,216.3 L559.1,213.4 L561.7,219.4 L564.3,232.7 L566.8,242.9 L569.4,257.9 L572.0,269.7 L574.6,276.2 L577.1,290.1 L579.7,304.9 L582.3,319.1 L584.9,329.4 L587.5,336.5 L590.0,340.6 L592.6,343.3 L595.2,345.3 L597.8,339.4 L600.3,331.3 L602.9,326.9 L605.5,323.5 L608.1,326.5 L610.7,332.6 L613.2,335.6 L615.8,335.2 L618.4,333.9 L621.0,330.0 L623.5,325.1 L626.1,317.6 L628.7,315.7 L631.3,308.9 L633.9,298.3 L636.4,289.5 L639.0,283.5 L641.6,275.7 L644.2,267.4 L646.8,260.3 L649.3,256.8 L651.9,257.2 L654.5,256.2 L657.1,255.6 L659.6,250.6 L662.2,243.1 L664.8,233.7 L667.4,224.7 L670.0,217.6 L672.5,210.8 L675.1,205.4 L677.7,199.9 L680.3,193.3 L682.8,186.8 L685.4,182.4 L688.0,178.6 L690.6,176.0 L693.2,172.8 L695.7,170.4 L698.3,168.7 L700.9,171.4 L703.5,174.5 L706.0,183.2 L708.6,194.7 L711.2,204.8 L713.8,213.5 L716.4,214.7 L718.9,214.0 L721.5,207.8 L724.1,202.0 L726.7,197.3 L729.2,189.9 L731.8,184.3 L734.4,179.3 L737.0,176.0 L739.6,176.3 L742.1,178.5 L744.7,171.5 L747.3,166.0 L749.9,161.6 L752.4,154.9 L755.0,146.9 L757.6,135.2 L760.2,128.3 L762.8,126.1 L765.3,119.9 L767.9,114.2 L770.5,110.1 L773.1,103.8 L775.7,99.1 L778.2,92.0 L780.8,86.9 L783.4,80.8 L786.0,79.9 L788.5,84.3 L791.1,95.8 L793.7,112.9 L796.3,132.0 L798.9,144.4 L801.4,159.2 L804.0,172.3 L806.6,185.1 L809.2,195.0 L811.7,204.9 L814.3,207.3 L816.9,200.8 L819.5,193.6 L822.1,188.0 L824.6,178.9 L827.2,169.7 L829.8,164.2 L832.4,154.2 L834.9,149.0 L837.5,148.7 L840.1,150.2 L842.7,144.9 L845.3,134.7 L847.8,124.4 L850.4,117.8 L853.0,111.1 L855.6,109.0 L858.1,108.3 L860.7,110.0 L863.3,114.7 L865.9,120.3 L868.5,128.5 L871.0,137.3 L873.6,145.3 L876.2,153.9 L878.8,158.7 L881.3,161.2 L883.9,169.4 L886.5,179.2 L889.1,191.3 L891.7,200.9 L894.2,203.5 L896.8,204.6 L899.4,204.4 L902.0,208.9 L904.6,211.3 L907.1,211.8 L909.7,214.6 L912.3,214.3 L914.9,212.0 L917.4,212.7 L920.0,208.0 L922.6,200.4 L925.2,198.2 L927.8,194.4 L930.3,194.6 L932.9,194.3 L935.5,193.9 L938.1,193.4 L940.6,192.4 L943.2,190.7 L945.8,190.0 L948.4,187.7 L951.0,186.3 L953.5,179.4 L956.1,172.3 L958.7,165.1 L961.3,157.0 L963.8,151.4 L966.4,144.3" stroke="#3b8ee2" stroke-width="1.3" fill="none"/><path d="M509 170H1010M494 267.5H1010M429 391.5H1010" stroke="#e8e8e8" stroke-width="1.3" fill="none"/><path d="M786 43L1010 142M891 264.5L1010 142" stroke="#d8d8d8" stroke-width="1.3" fill="none"/><path d="M1010.5 0V675.5H0" stroke="#eeeeee" stroke-width="1" fill="none"/><path d="M1011 11.5h4M1011 112.5h4M1011 214.5h4M1011 315.5h4M1011 417.5h4M1011 518.5h4M1011 620.5h4" stroke="#dddddd" stroke-width="1"/><path d="M1010 56.5L1020 61.5L1010 66.5Z" fill="#f4f4f4"/><text x="1023" y="68" font-size="17.5" fill="#e8ecef" textLength="26" lengthAdjust="spacingAndGlyphs">160</text><path d="M1010 158.5L1020 163.5L1010 168.5Z" fill="#f4f4f4"/><text x="1023" y="170" font-size="17.5" fill="#e8ecef" textLength="26" lengthAdjust="spacingAndGlyphs">150</text><path d="M1010 260.5L1020 265.5L1010 270.5Z" fill="#f4f4f4"/><text x="1023" y="272" font-size="17.5" fill="#e8ecef" textLength="26" lengthAdjust="spacingAndGlyphs">140</text><path d="M1010 361.5L1020 366.5L1010 371.5Z" fill="#f4f4f4"/><text x="1023" y="373" font-size="17.5" fill="#e8ecef" textLength="26" lengthAdjust="spacingAndGlyphs">130</text><path d="M1010 462.5L1020 467.5L1010 472.5Z" fill="#f4f4f4"/><text x="1023" y="474" font-size="17.5" fill="#e8ecef" textLength="26" lengthAdjust="spacingAndGlyphs">120</text><path d="M1010 563.5L1020 568.5L1010 573.5Z" fill="#f4f4f4"/><text x="1023" y="575" font-size="17.5" fill="#e8ecef" textLength="26" lengthAdjust="spacingAndGlyphs">110</text><path d="M1010 665.5L1020 670.5L1010 675.5Z" fill="#f4f4f4"/><text x="1023" y="672.5" font-size="17.5" fill="#e8ecef" textLength="26" lengthAdjust="spacingAndGlyphs">100</text><path d="M74.5 676V680M107.5 676V680M140.5 676V680M208.5 676V680M241.5 676V680M274.5 676V680M342.5 676V680M376.5 676V680M410.5 676V680M478.5 676V680M512.5 676V680M545.5 676V680M612.5 676V680M646.5 676V680M680.5 676V680M746.5 676V680M780.5 676V680M814.5 676V680M881.5 676V680M915.5 676V680M949.5 676V680M7.5 676V680M984.5 676V680" stroke="#dddddd" stroke-width="1"/><path d="M40.5 676V717M174.5 676V717M308.5 676V717M444.5 676V717M579.5 676V717M713.5 676V717M847.5 676V717M983.5 676V717" stroke="#8a8a8a" stroke-width="1"/><text x="89.5" y="714" font-size="18" fill="#e8ecef" textLength="35" lengthAdjust="spacingAndGlyphs">2019</text><text x="223.5" y="714" font-size="18" fill="#e8ecef" textLength="35" lengthAdjust="spacingAndGlyphs">2020</text><text x="358.5" y="714" font-size="18" fill="#e8ecef" textLength="35" lengthAdjust="spacingAndGlyphs">2021</text><text x="494.0" y="714" font-size="18" fill="#e8ecef" textLength="35" lengthAdjust="spacingAndGlyphs">2022</text><text x="628.5" y="714" font-size="18" fill="#e8ecef" textLength="35" lengthAdjust="spacingAndGlyphs">2023</text><text x="762.5" y="714" font-size="18" fill="#e8ecef" textLength="35" lengthAdjust="spacingAndGlyphs">2024</text><text x="897.5" y="714" font-size="18" fill="#e8ecef" textLength="35" lengthAdjust="spacingAndGlyphs">2025</text><path d="M13.5 21V58.5H18M13.5 38.5H18" stroke="#8a8e92" stroke-width="1" fill="none"/><rect x="9.5" y="13.5" width="8" height="8" fill="none" stroke="#8a8e92"/><path d="M11 17.5h5" stroke="#8a8e92"/><rect x="21" y="10" width="15" height="15" fill="#ffffff"/><rect x="21" y="30" width="15" height="15" fill="#3d9bff"/><rect x="21" y="50" width="15" height="15" fill="#f4203f"/><text x="42.2" y="25.5" font-size="17" fill="#e6eaed" textLength="55.1" lengthAdjust="spacingAndGlyphs">USDJPY</text><text x="105.5" y="25.5" font-size="17" fill="#e6eaed" textLength="48.3" lengthAdjust="spacingAndGlyphs">Curncy</text><text x="163.2" y="25.5" font-size="17" fill="#e6eaed" textLength="5.3" lengthAdjust="spacingAndGlyphs">-</text><text x="175.4" y="25.5" font-size="17" fill="#e6eaed" textLength="31.2" lengthAdjust="spacingAndGlyphs">Last</text><text x="213.7" y="25.5" font-size="17" fill="#e6eaed" textLength="38.8" lengthAdjust="spacingAndGlyphs">Price</text><text x="260.4" y="25.5" font-size="17" fill="#e6eaed" textLength="34.0" lengthAdjust="spacingAndGlyphs">(R1)</text><text x="303.9" y="25.5" font-size="17" fill="#e6eaed" textLength="47.5" lengthAdjust="spacingAndGlyphs">154.83</text><text x="42.2" y="45.5" font-size="17" fill="#e6eaed" textLength="46.2" lengthAdjust="spacingAndGlyphs">EMAVG</text><text x="96.5" y="45.5" font-size="17" fill="#e6eaed" textLength="23.9" lengthAdjust="spacingAndGlyphs">(9)</text><text x="134.5" y="45.5" font-size="17" fill="#e6eaed" textLength="16.4" lengthAdjust="spacingAndGlyphs">on</text><text x="157.6" y="45.5" font-size="17" fill="#e6eaed" textLength="40.1" lengthAdjust="spacingAndGlyphs">Close</text><text x="205.8" y="45.5" font-size="17" fill="#e6eaed" textLength="71.2" lengthAdjust="spacingAndGlyphs">(USDJPY)</text><text x="303.9" y="45.5" font-size="17" fill="#e6eaed" textLength="47.5" lengthAdjust="spacingAndGlyphs">151.84</text><text x="42.2" y="65.5" font-size="17" fill="#e6eaed" textLength="46.2" lengthAdjust="spacingAndGlyphs">EMAVG</text><text x="96.5" y="65.5" font-size="17" fill="#e6eaed" textLength="32.8" lengthAdjust="spacingAndGlyphs">(21)</text><text x="142.7" y="65.5" font-size="17" fill="#e6eaed" textLength="16.3" lengthAdjust="spacingAndGlyphs">on</text><text x="166.5" y="65.5" font-size="17" fill="#e6eaed" textLength="40.1" lengthAdjust="spacingAndGlyphs">Close</text><text x="214.5" y="65.5" font-size="17" fill="#e6eaed" textLength="71.2" lengthAdjust="spacingAndGlyphs">(USDJPY)</text><text x="303.9" y="65.5" font-size="17" fill="#e6eaed" textLength="47.5" lengthAdjust="spacingAndGlyphs">149.84</text><path d="M1012 113L1019 103H1072V124H1019Z" fill="#ffffff"/><text x="1022" y="120.5" font-size="17.5" fill="#1a1a1a" textLength="47" lengthAdjust="spacingAndGlyphs">154.83</text><path d="M1012 145L1019 134.5H1072V155.5H1019Z" fill="#3d9bff"/><text x="1022" y="152.0" font-size="17.5" fill="#10161c" textLength="47" lengthAdjust="spacingAndGlyphs">151.84</text><path d="M1012 166L1019 156.5H1072V176H1019Z" fill="#f4203f"/><text x="1022" y="172.5" font-size="17.5" fill="#ffffff" textLength="47" lengthAdjust="spacingAndGlyphs">149.84</text></svg></body></html>
